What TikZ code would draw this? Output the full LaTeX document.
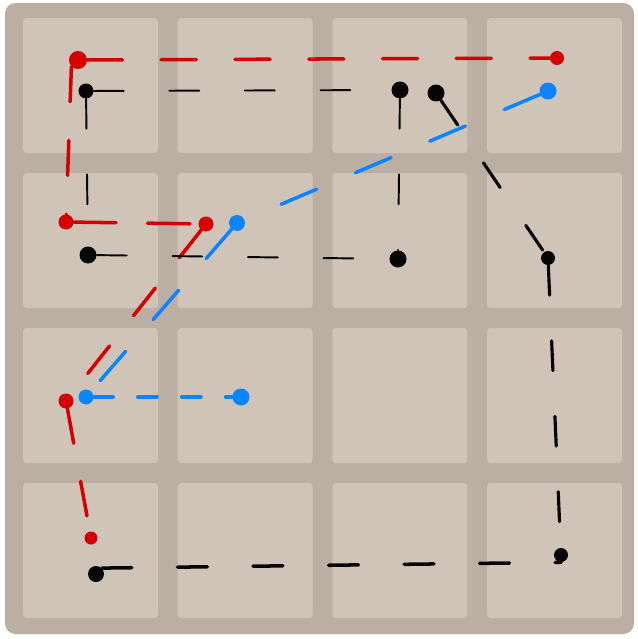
\documentclass[tikz,border=0pt]{standalone}
\usetikzlibrary{positioning}
\definecolor{boardbg}{HTML}{BBAFA3}
\definecolor{cellbg}{HTML}{CFC4B7}
\definecolor{penred}{HTML}{D50000}
\definecolor{penblue}{HTML}{0A84FF}
\definecolor{penblack}{HTML}{050505}

\begin{document}
\begin{tikzpicture}[x=0.02cm, y=-0.02cm,
  cell/.style={fill=cellbg, rounded corners=2pt},
  dot/.style={circle, inner sep=0pt, minimum size=0.3cm},
  reddot/.style={dot, fill=penred},
  blackdot/.style={dot, fill=penblack},
  bluedot/.style={dot, fill=penblue},
  redpen/.style={penred, line width=2pt, line cap=round, dash pattern=on 20pt off 22pt},
  blackpen/.style={penblack, line width=1.1pt, line cap=round, dash pattern=on 17pt off 26pt},
  bluepen/.style={penblue, line width=2pt, line cap=round, dash pattern=on 22pt off 24pt}
]
  \useasboundingbox (0,0) rectangle (637,639);
  \fill[boardbg, rounded corners=6pt] (5,3) rectangle (634,634);
  \foreach \i in {0,...,3}
    \foreach \j in {0,...,3}
      \fill[cell] (23+154.7*\i,18+155*\j) rectangle ++(135,135);

  % red route
  \node[reddot, minimum size=0.36cm] (r1) at (78,60) {};
  \node[reddot, minimum size=0.28cm] (r2) at (557,58) {};
  \node[reddot] (r3) at (66,222) {};
  \node[reddot] (r4) at (206,224) {};
  \node[reddot] (r5) at (66,401) {};
  \node[reddot, minimum size=0.26cm] (r6) at (91,538) {};

  % black route
  \node[blackdot] (k1) at (86,91) {};
  \node[blackdot, minimum size=0.34cm] (k2) at (400,90) {};
  \node[blackdot, minimum size=0.34cm] (k3) at (436,93) {};
  \node[blackdot, minimum size=0.34cm] (k4) at (88,255) {};
  \node[blackdot, minimum size=0.34cm] (k5) at (398,259) {};
  \node[blackdot, minimum size=0.28cm] (k6) at (548,258) {};
  \node[blackdot, minimum size=0.28cm] (k7) at (561,555) {};
  \node[blackdot, minimum size=0.32cm] (k8) at (96,574) {};

  % blue route
  \node[bluedot, minimum size=0.34cm] (b1) at (548,91) {};
  \node[bluedot, minimum size=0.32cm] (b2) at (237,223) {};
  \node[bluedot, minimum size=0.3cm] (b3) at (86,397) {};
  \node[bluedot, minimum size=0.34cm] (b4) at (241,397) {};

  \draw[redpen] (r1) -- (r2);
  \draw[redpen] (r1.south west) -- (r3);
  \draw[redpen, dash pattern=on 24pt off 18pt] (r3) -- (r4);
  \draw[redpen] (r4) -- (r5);
  \draw[redpen] (r5) -- (r6);

  \draw[blackpen] (k1) -- (k2);
  \draw[blackpen] (k1) -- (k4);
  \draw[blackpen] (k4) -- (k5);
  \draw[blackpen] (k2) -- (k5);
  \draw[blackpen, line width=1.8pt] (k3) -- (k6);
  \draw[blackpen, line width=1.8pt] (k6) -- (k7);
  \draw[blackpen, line width=2pt] (k8.north east) -- (k7.south);

  \draw[bluepen] (b1) -- (b2);
  \draw[bluepen] (b2) -- (b3);
  \draw[bluepen, dash pattern=on 11pt off 14pt] (b3) -- (b4);
\end{tikzpicture}
\end{document}
